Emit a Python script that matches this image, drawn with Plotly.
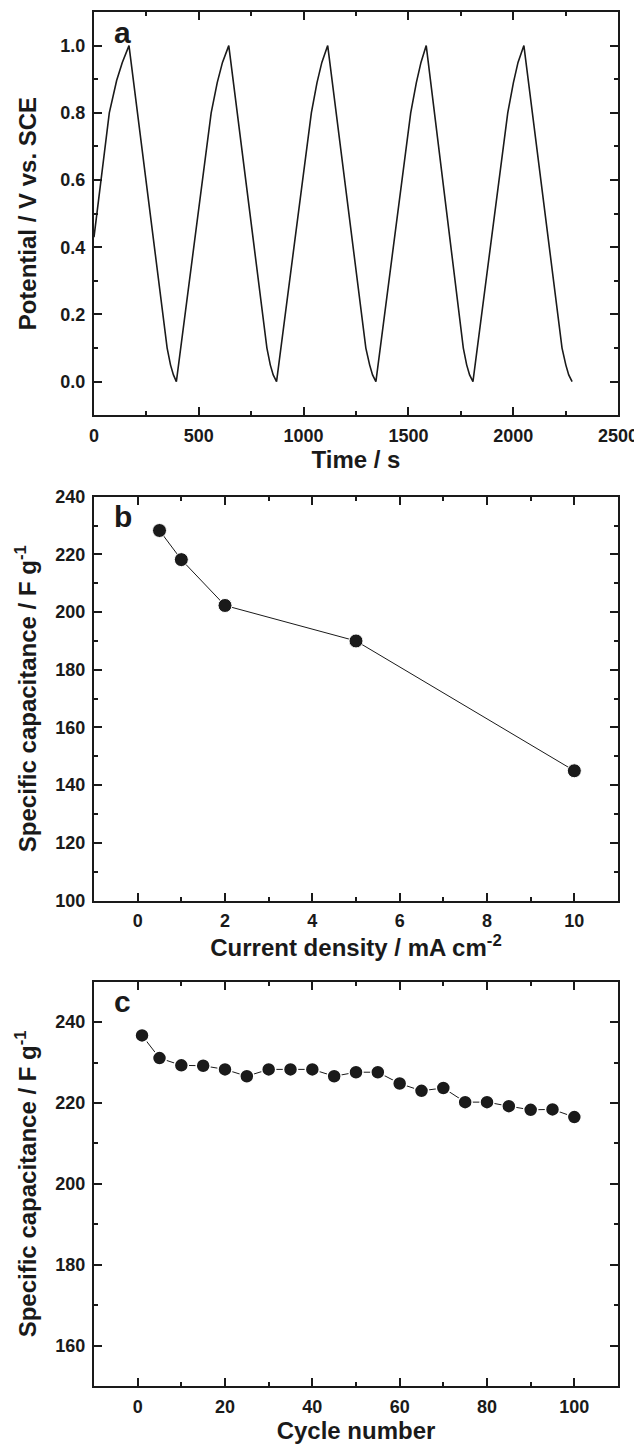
import plotly.graph_objects as go

# ---------------- data ----------------
# (a) galvanostatic charge/discharge curve
time_s = [0, 20, 44, 73, 108, 135, 167,
          235, 287, 327, 349, 365, 379, 393,
          528, 559, 588, 613, 643,
          711, 763, 803, 825, 841, 855, 871,
          1006, 1037, 1064, 1087, 1115,
          1183, 1235, 1275, 1297, 1315, 1329, 1345,
          1480, 1511, 1538, 1560, 1585,
          1651, 1702, 1740, 1762, 1778, 1792, 1808,
          1943, 1974, 2001, 2023, 2051,
          2119, 2171, 2211, 2233, 2251, 2265, 2281]
potential_v = [0.43, 0.53, 0.66, 0.80, 0.896, 0.95, 1.0,
               0.66, 0.40, 0.20, 0.10, 0.05, 0.02, 0.0,
               0.66, 0.80, 0.89, 0.95, 1.0,
               0.66, 0.40, 0.20, 0.10, 0.05, 0.02, 0.0,
               0.66, 0.80, 0.89, 0.95, 1.0,
               0.66, 0.40, 0.20, 0.10, 0.05, 0.02, 0.0,
               0.66, 0.80, 0.89, 0.95, 1.0,
               0.66, 0.40, 0.20, 0.10, 0.05, 0.02, 0.0,
               0.66, 0.80, 0.89, 0.95, 1.0,
               0.66, 0.40, 0.20, 0.10, 0.05, 0.02, 0.0]

# (b) rate capability
current_density = [0.5, 1, 2, 5, 10]
capacitance_b = [228.3, 218.2, 202.3, 190.0, 145.0]

# (c) cycling stability
cycle_number = [1, 5, 10, 15, 20, 25, 30, 35, 40, 45, 50,
                55, 60, 65, 70, 75, 80, 85, 90, 95, 100]
capacitance_c = [236.7, 231.1, 229.3, 229.2, 228.3, 226.6, 228.3, 228.3, 228.3, 226.6, 227.6,
                 227.6, 224.8, 223.0, 223.7, 220.2, 220.2, 219.2, 218.3, 218.4, 216.5]

# tick labels
a_x_ticks = [0, 500, 1000, 1500, 2000, 2500]
a_x_labels = ["0", "500", "1000", "1500", "2000", "2500"]
a_y_ticks = [0.0, 0.2, 0.4, 0.6, 0.8, 1.0]
a_y_labels = ["0.0", "0.2", "0.4", "0.6", "0.8", "1.0"]
b_x_ticks = [0, 2, 4, 6, 8, 10]
b_x_labels = ["0", "2", "4", "6", "8", "10"]
b_y_ticks = [100, 120, 140, 160, 180, 200, 220, 240]
b_y_labels = ["100", "120", "140", "160", "180", "200", "220", "240"]
c_x_ticks = [0, 20, 40, 60, 80, 100]
c_x_labels = ["0", "20", "40", "60", "80", "100"]
c_y_ticks = [160, 180, 200, 220, 240]
c_y_labels = ["160", "180", "200", "220", "240"]

# ---------------- figure ----------------
FONT = "Arial"
INK = "#1a1a1a"

fig = go.Figure()
fig.add_trace(go.Scatter(x=time_s, y=potential_v, mode="lines",
                         line=dict(color=INK, width=1.6), xaxis="x", yaxis="y",
                         showlegend=False))
fig.add_trace(go.Scatter(x=current_density, y=capacitance_b, mode="lines+markers",
                         line=dict(color=INK, width=1),
                         marker=dict(size=14, color=INK, line=dict(color="white", width=1)),
                         xaxis="x2", yaxis="y2", showlegend=False))
fig.add_trace(go.Scatter(x=cycle_number, y=capacitance_c, mode="lines+markers",
                         line=dict(color=INK, width=1),
                         marker=dict(size=14, color=INK, line=dict(color="white", width=1.5)),
                         xaxis="x3", yaxis="y3", showlegend=False))


def bold(labels):
    return ["<b>" + s + "</b>" for s in labels]


def ax(vals, labels, **kw):
    base = dict(showline=True, linecolor=INK, linewidth=2, mirror="ticks",
                ticks="inside", ticklen=8, tickwidth=1.5, tickcolor=INK,
                showgrid=False, zeroline=False, ticklabelstandoff=3, automargin=False,
                tickmode="array", tickvals=vals, ticktext=bold(labels),
                tickfont=dict(family=FONT, size=18, color=INK),
                title_font=dict(family=FONT, size=24, color=INK))
    base.update(kw)
    return base


def minor(d):
    return dict(ticks="inside", ticklen=4, tickwidth=1.5, tickcolor=INK, dtick=d)


# the page body adds an 8 px offset, so the figure is 8 px smaller on each side
fig.update_layout(
    width=634, height=1438,
    margin=dict(l=86, r=24, t=4, b=60),
    paper_bgcolor="white", plot_bgcolor="white",
    xaxis=ax(a_x_ticks, a_x_labels, domain=[0, 1], anchor="y", range=[0, 2500],
             minor=minor(250), title=dict(text="<b>Time / s</b>", standoff=2)),
    yaxis=ax(a_y_ticks, a_y_labels, domain=[0.7065, 1.0], anchor="x", range=[-0.1, 1.1],
             minor=minor(0.1),
             title=dict(text="<b>Potential / V vs. SCE</b>", standoff=17)),
    xaxis2=ax(b_x_ticks, b_x_labels, domain=[0, 1], anchor="y2", range=[-1, 11],
              minor=minor(1),
              title=dict(text="<b>Current density / mA cm<sup>-2</sup></b>", standoff=0)),
    yaxis2=ax(b_y_ticks, b_y_labels, domain=[0.3533, 0.6472], anchor="x2", range=[100, 240],
              minor=minor(10),
              title=dict(text="<b>Specific capacitance / F g<sup>-1</sup></b>", standoff=12)),
    xaxis3=ax(c_x_ticks, c_x_labels, domain=[0, 1], anchor="y3", range=[-10, 110],
              minor=minor(10), title=dict(text="<b>Cycle number</b>", standoff=1)),
    yaxis3=ax(c_y_ticks, c_y_labels, domain=[0, 0.2943], anchor="x3", range=[150, 250],
              minor=minor(10),
              title=dict(text="<b>Specific capacitance / F g<sup>-1</sup></b>", standoff=12)),
)

for letter, xr, yr in [("a", "x domain", "y domain"),
                       ("b", "x2 domain", "y2 domain"),
                       ("c", "x3 domain", "y3 domain")]:
    fig.add_annotation(text="<b>" + letter + "</b>", xref=xr, yref=yr, x=0.034, y=0.95,
                       xanchor="left", yanchor="middle", showarrow=False,
                       font=dict(family=FONT, size=30, color=INK))

fig.write_html("out.html")
